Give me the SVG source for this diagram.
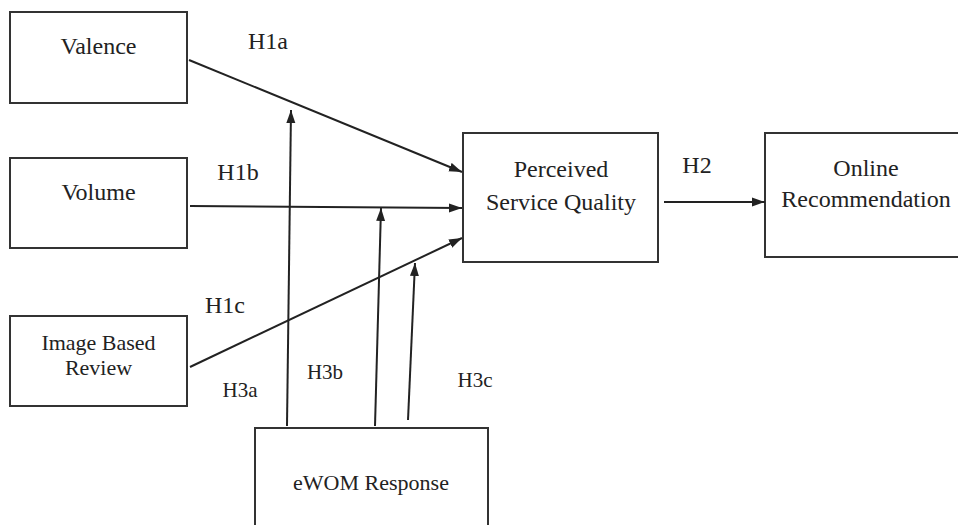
<svg xmlns="http://www.w3.org/2000/svg" width="958" height="525" viewBox="0 0 958 525">
<style>
.box{fill:#fff;stroke:#333;stroke-width:2}
.t{font-family:"Liberation Serif","Times New Roman",serif;fill:#222;text-anchor:middle}
.lg{font-size:24px}
.md{font-size:22px}
.sm{font-size:21px}
.c{stroke:#222;stroke-width:2;fill:none;marker-end:url(#ah)}
</style>
<defs>
<marker id="ah" markerUnits="userSpaceOnUse" markerWidth="14" markerHeight="10" refX="13" refY="5" orient="auto">
<path d="M0,0.5 L13,5 L0,9.5 z" fill="#222"/>
</marker>
</defs>
<rect width="958" height="525" fill="#fff"/>
<g id="valence"><rect class="box" x="10" y="12" width="177" height="91"/><text class="t lg" x="98.5" y="54">Valence</text></g>
<g id="volume"><rect class="box" x="10" y="158" width="177" height="90"/><text class="t lg" x="98.5" y="200">Volume</text></g>
<g id="image-review"><rect class="box" x="10" y="316" width="177" height="90"/><text class="t md" x="98.5" y="350">Image Based</text><text class="t md" x="98.5" y="375">Review</text></g>
<g id="psq"><rect class="box" x="463" y="133" width="195" height="129"/><text class="t lg" x="561" y="177">Perceived</text><text class="t lg" x="561" y="210">Service Quality</text></g>
<g id="online"><rect class="box" x="765" y="133" width="200" height="124"/><text class="t lg" x="866" y="176">Online</text><text class="t lg" x="866" y="207">Recommendation</text></g>
<g id="ewom"><rect class="box" x="255" y="428" width="233" height="110"/><text class="t md" x="371" y="490">eWOM Response</text></g>
<g id="connectors">
<line class="c" x1="189" y1="60" x2="462" y2="172"/>
<line class="c" x1="190" y1="206" x2="462" y2="208"/>
<line class="c" x1="190" y1="367" x2="462" y2="238"/>
<line class="c" x1="664" y1="202" x2="765" y2="202"/>
<line class="c" x1="287" y1="426" x2="291" y2="110"/>
<line class="c" x1="375" y1="426" x2="381" y2="208"/>
<line class="c" x1="408" y1="420" x2="415" y2="263"/>
</g>
<g id="labels">
<text class="t lg" x="268" y="49">H1a</text>
<text class="t lg" x="238" y="180">H1b</text>
<text class="t lg" x="225" y="313">H1c</text>
<text class="t lg" x="697" y="173">H2</text>
<text class="t sm" x="240" y="397">H3a</text>
<text class="t sm" x="325" y="379">H3b</text>
<text class="t sm" x="475" y="387">H3c</text>
</g>
</svg>
